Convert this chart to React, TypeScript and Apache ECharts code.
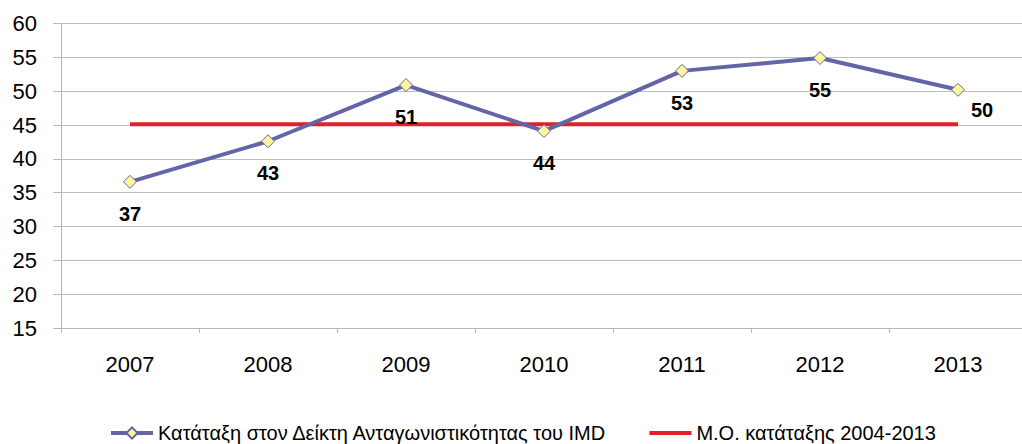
import React, { useEffect, useRef } from "react";
import * as echarts from "echarts";

const years = ["2007", "2008", "2009", "2010", "2011", "2012", "2013"];
const rankValues = [36.6, 42.6, 50.9, 44.1, 53.0, 54.9, 50.2];
const averageValues = [45.1, 45.1, 45.1, 45.1, 45.1, 45.1, 45.1];
const seriesNames = ["Κατάταξη στον Δείκτη Ανταγωνιστικότητας του IMD", "Μ.Ο. κατάταξης 2004-2013"];

const FONT = "'Liberation Sans', Arial, sans-serif";
const BLUE = "#6365a6";
const RED = "#e0202a";

export default function App() {
  const ref = useRef<HTMLDivElement>(null);
  useEffect(() => {
    if (!ref.current) return;
    const chart = echarts.init(ref.current, undefined, { renderer: "svg" });
    const last = rankValues.length - 1;
    chart.setOption({
      animation: false,
      backgroundColor: "#ffffff",
      grid: {
        left: 61,
        width: 966,
        top: 23.5,
        height: 304.5,
        containLabel: false,
        outerBoundsMode: "none",
      },
      legend: {
        top: 423,
        left: 109,
        padding: 0,
        itemWidth: 42,
        itemHeight: 14,
        itemGap: 42,
        textStyle: { fontFamily: FONT, fontSize: 20, color: "#000" },
        data: [
          { name: seriesNames[0], lineStyle: { width: 4 } },
          { name: seriesNames[1], icon: "path://M0,0 L42,0 L42,4 L0,4 Z", itemStyle: { color: RED } },
        ],
      },
      xAxis: {
        type: "category",
        data: years,
        boundaryGap: true,
        axisLine: { lineStyle: { color: "#b8b8b8", width: 1 } },
        axisTick: { show: true, length: 5, lineStyle: { color: "#b8b8b8" } },
        axisLabel: { fontFamily: FONT, fontSize: 22, color: "#000", margin: 25 },
      },
      yAxis: {
        type: "value",
        min: 15,
        max: 60,
        interval: 5,
        axisLine: { show: true, lineStyle: { color: "#b8b8b8", width: 1 } },
        axisTick: { show: true, length: 8, lineStyle: { color: "#b8b8b8" } },
        splitLine: { lineStyle: { color: "#bdbdbd", width: 1 } },
        axisLabel: { fontFamily: FONT, fontSize: 22, color: "#000", margin: 24 },
      },
      series: [
        {
          name: seriesNames[0],
          type: "line",
          data: rankValues.map((v, i) =>
            i === last ? { value: v, label: { offset: [24, -12] } } : { value: v }
          ),
          symbol: "diamond",
          symbolSize: 13,
          lineStyle: { color: BLUE, width: 4 },
          itemStyle: { color: "#fff59d", borderColor: BLUE, borderWidth: 1 },
          label: {
            show: true,
            position: "bottom",
            distance: 15,
            fontFamily: FONT,
            fontWeight: "bold",
            fontSize: 20,
            color: "#000",
            formatter: (p: any) => String(Math.round(p.value)),
          },
          z: 3,
        },
        {
          name: seriesNames[1],
          type: "line",
          data: averageValues,
          symbol: "none",
          lineStyle: { color: RED, width: 4 },
          itemStyle: { color: RED },
          z: 2,
        },
      ],
    });
    return () => chart.dispose();
  }, []);
  return (
    <div
      ref={ref}
      style={{ position: "fixed", left: 0, top: 0, width: 1022, height: 444, background: "#fff" }}
    />
  );
}
